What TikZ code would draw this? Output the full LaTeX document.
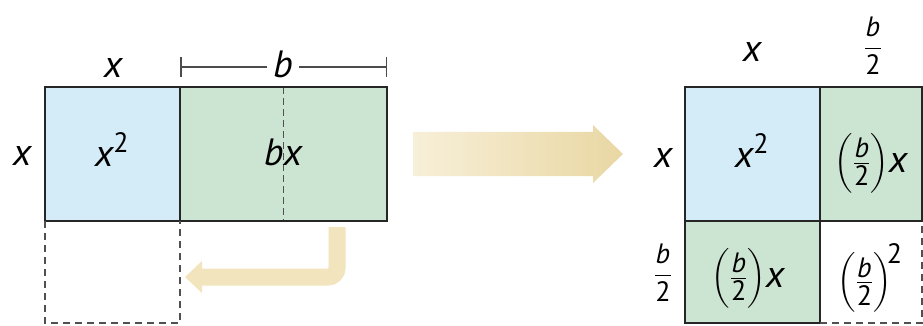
\documentclass[tikz,border=0pt]{standalone}
\usepackage{fix-cm}
\usepackage{amsmath}
\usepackage{fontspec}
\setmainfont{PT Sans}
\DeclareMathSizes{38}{38}{28}{20}
\DeclareMathSizes{28}{28}{20}{14}
\usetikzlibrary{calc}
\usetikzlibrary{arrows.meta}
\definecolor{sqblue}{RGB}{212,236,247}
\definecolor{rectgreen}{RGB}{204,228,210}
\definecolor{arrowlight}{RGB}{247,239,216}
\definecolor{arrowdark}{RGB}{233,215,163}
\definecolor{bendcol}{RGB}{242,228,188}
\definecolor{dashgray}{RGB}{80,80,80}
\newcommand{\vx}{\text{\itshape x}}
\newcommand{\vb}{\text{\itshape b}}
\newcommand{\two}{\text{2}}

\begin{document}
\begin{tikzpicture}[x=1pt,y=-1pt,
  lbl/.style={font=\fontsize{38}{42}\selectfont, inner sep=0pt},
  fraclbl/.style={font=\fontsize{28}{30}\selectfont, inner sep=0pt},
  edge/.style={line width=1.8pt, draw=black!85},
  hidden/.style={line width=1.8pt, draw=dashgray, dash pattern=on 7pt off 5pt},
  dimline/.style={line width=1.5pt, draw=black!70}]
\useasboundingbox (0,0) rectangle (923,326);
\def\a{135}
\def\bb{207}
\def\h{102}
% left figure
\coordinate (A) at (45,87);
\coordinate (B) at ($(A)+(\a,0)$);
\coordinate (C) at ($(B)+(\bb,0)$);
\coordinate (D) at ($(A)+(0,134)$);
\coordinate (E) at ($(B)+(0,134)$);
\coordinate (F) at ($(C)+(0,134)$);
\coordinate (M) at ($(B)!0.5!(C)$);
\coordinate (N) at ($(E)!0.5!(F)$);
\coordinate (G) at ($(D)+(0,\h)$);
\coordinate (H) at ($(E)+(0,\h)$);

\fill[sqblue] (A) rectangle (E);
\fill[rectgreen] (B) rectangle (F);
\draw[line width=1.5pt, draw=dashgray, dash pattern=on 7pt off 4pt] (M) -- (N);
\draw[edge] (A) -- (C) -- (F) -- (D) -- cycle;
\draw[edge] (B) -- (E);
\draw[hidden] (D) -- (G) -- (H) -- (E);

\node[lbl, anchor=base] (xtop) at (113,78) {$\vx$};
\node[lbl, anchor=base] (xleft) at (22,165) {$\vx$};
\node[lbl, anchor=base] (xsq) at (112,166) {$\vx^{\two}$};
\node[lbl, anchor=base] (bx) at (283,165) {$\vb\vx$};
\node[lbl, anchor=base, inner xsep=6pt] (btop) at (283,78) {$\vb$};
\coordinate (bl) at ($(B)+(0,-20)$);
\coordinate (br) at ($(C)+(0,-20)$);
\draw[dimline, {Bar[width=20pt]}-] (bl) -- (bl -| btop.west);
\draw[dimline, -{Bar[width=20pt]}] (br -| btop.east) -- (br);

% bent arrow
\coordinate (bendtop) at (337,227);
\coordinate (bendtip) at (185,277);
\draw[bendcol, line width=17pt, rounded corners=9pt, -{Triangle[width=31pt,length=17pt]}]
  (bendtop) -- (bendtop |- bendtip) -- (bendtip);

% big arrow
\shade[left color=arrowlight, right color=arrowdark]
  (413,132) -- (593,132) -- (593,125) -- (623,154) -- (593,183) -- (593,176) -- (413,176) -- cycle;

% right figure
\coordinate (P) at (685,87);
\coordinate (Q) at ($(P)+(\a,0)$);
\coordinate (R) at ($(Q)+(\h,0)$);
\coordinate (S) at ($(P)+(0,134)$);
\coordinate (T) at ($(Q)+(0,134)$);
\coordinate (U) at ($(R)+(0,134)$);
\coordinate (V) at ($(S)+(0,\h)$);
\coordinate (W) at ($(T)+(0,\h)$);
\coordinate (Z) at ($(U)+(0,\h)$);

\fill[sqblue] (P) rectangle (T);
\fill[rectgreen] (Q) rectangle (U);
\fill[rectgreen] (S) rectangle (W);
\draw[edge] (S) -- (P) -- (R) -- (U) -- (S) -- (V) -- (W) -- (Q);
\draw[hidden] (W) -- (Z) -- (U);

\node[lbl, anchor=base] (xtop2) at (752,62) {$\vx$};
\node[fraclbl] (htop) at (873,46) {$\dfrac{\vb}{\two}$};
\node[lbl, anchor=base] (xleft2) at (663,167) {$\vx$};
\node[fraclbl] (hleft) at (663,273) {$\dfrac{\vb}{\two}$};
\node[lbl, anchor=base] (xsq2) at (752,167) {$\vx^{\two}$};
\node[lbl] (hx1) at (871,163) {$\left(\frac{\vb}{\two}\right)\!\vx$};
\node[lbl] (hx2) at (748,278) {$\left(\frac{\vb}{\two}\right)\!\vx$};
\node[lbl] (hsq) at (870,278) {$\left(\frac{\vb}{\two}\right)^{\!\two}$};
\end{tikzpicture}
\end{document}
